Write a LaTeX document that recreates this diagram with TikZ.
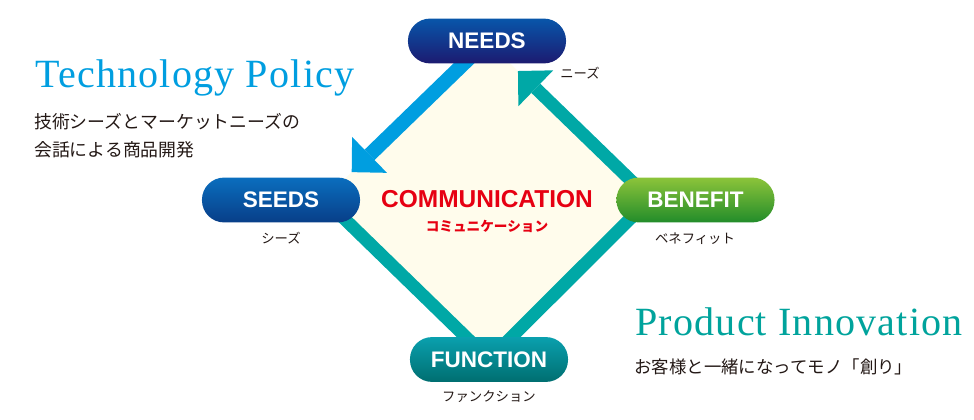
\documentclass[tikz,border=0pt]{standalone}
\usepackage{fontspec}
\usetikzlibrary{calc,arrows.meta,backgrounds}
\newfontfamily\headfont[LetterSpace=3]{Liberation Serif}
\newfontfamily\pillfont{Liberation Sans}
\newfontfamily\jpfont{Noto Sans CJK JP}
\definecolor{cream}{RGB}{255,252,236}
\definecolor{skyblue}{RGB}{0,158,224}
\definecolor{diagteal}{RGB}{0,168,166}
\definecolor{prodteal}{RGB}{0,163,156}
\definecolor{jpgray}{RGB}{35,24,21}
\definecolor{commred}{RGB}{230,0,18}

\begin{document}
\begin{tikzpicture}[x=0.025cm,y=-0.025cm,
  pill/.style={rounded corners=0.55cm, minimum width=3.95cm, minimum height=1.12cm,
    inner sep=0pt, text=white, font=\pillfont\bfseries\fontsize{16}{18}\selectfont},
  kana/.style={inner sep=0pt, text=jpgray, font=\jpfont\fontsize{9.5}{11}\selectfont},
  jptext/.style={inner sep=0pt, anchor=west, text=jpgray, font=\jpfont\fontsize{12.7}{14}\selectfont},
  heading/.style={inner sep=0pt, anchor=base west, font=\headfont\fontsize{28.5}{32}\selectfont},
  tealline/.style={draw=diagteal, line width=0.32cm},
  bluearrow/.style={draw=skyblue, line width=0.36cm,
    -{Triangle[length=0.62cm,width=1.25cm,line width=0pt]}},
  tealarrow/.style={draw=diagteal, line width=0.32cm,
    -{Triangle[length=0.62cm,width=1.25cm,line width=0pt]}}]
\useasboundingbox (0,0) rectangle (974,420);

% Pills
\node[pill, top color={rgb,255:red,8;green,86;blue,170}, bottom color={rgb,255:red,28;green,26;blue,112}]
  (needs) at (487,41) {NEEDS};
\node[pill, top color={rgb,255:red,10;green,110;blue,190}, bottom color={rgb,255:red,8;green,62;blue,136}]
  (seeds) at (281,200) {SEEDS};
\node[pill, top color={rgb,255:red,140;green,196;blue,58}, bottom color={rgb,255:red,34;green,140;blue,42}]
  (benefit) at (695.5,200) {BENEFIT};
\node[pill, top color={rgb,255:red,10;green,160;blue,174}, bottom color={rgb,255:red,0;green,110;blue,112}]
  (function) at (489,359.5) {FUNCTION};

% corners of the diamond
\coordinate (ctop) at (needs.center);
\coordinate (cleft) at ($(seeds.center)+(43,-1)$);
\coordinate (cbottom) at (function.center);
\coordinate (cright) at ($(benefit.center)+(-45.5,-1)$);
\coordinate (tipS) at ($(ctop)!0.83!(cleft)$);
\coordinate (tipN) at ($(cright)!0.81!(ctop)$);

\begin{scope}[on background layer]
\fill[cream] (ctop) -- (cleft) -- (cbottom) -- (cright) -- cycle;
\draw[tealline] (cleft) -- (cbottom) -- (cright);
\draw[bluearrow] (ctop) -- (tipS);
\draw[tealarrow] (cright) -- (tipN);
\end{scope}

% kana under the pills
\node[kana] (needsjp) at (580,73) {ニーズ};
\node[kana] (seedsjp) at (281,238) {シーズ};
\node[kana] (benefitjp) at (695,239) {ベネフィット};
\node[kana] (functionjp) at (489,397) {ファンクション};

% centre
\node[inner sep=0pt, text=commred, font=\pillfont\bfseries\fontsize{17.4}{20}\selectfont]
  (comm) at (487,199) {COMMUNICATION};
\node[inner sep=0pt, text=commred, font=\jpfont\bfseries\fontsize{9.7}{12}\selectfont]
  (commjp) at (487,226) {コミュニケーション};

% Technology Policy
\node[heading, text=skyblue] (techtitle) at (35,88) {Technology Policy};
\node[jptext] (techline1) at (34,122) {技術シーズとマーケットニーズの};
\node[jptext] (techline2) at (34,150) {会話による商品開発};

% Product Innovation
\node[heading, text=prodteal] (prodtitle) at (635,335) {Product Innovation};
\node[jptext, font=\jpfont\fontsize{12.4}{14}\selectfont] (prodline) at (634,367) {お客様と一緒になってモノ「創り」};

\end{tikzpicture}
\end{document}
